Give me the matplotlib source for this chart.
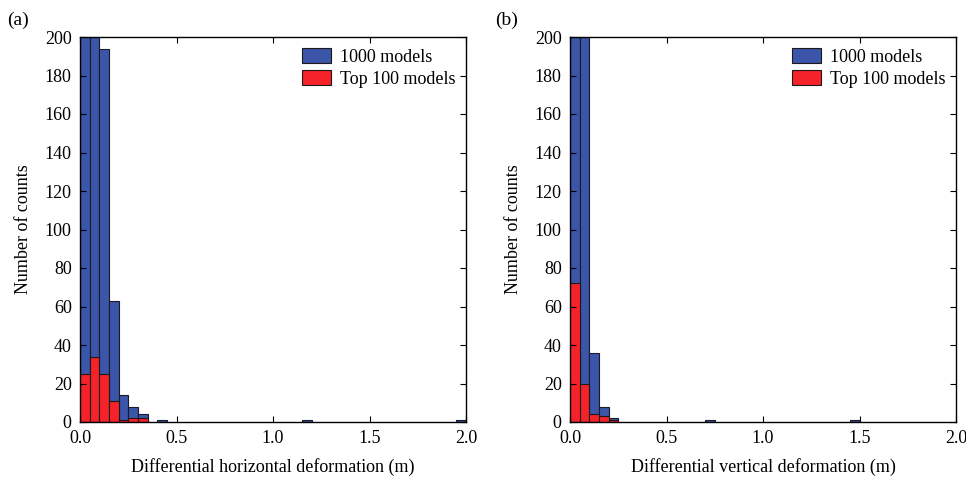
import numpy as np
import matplotlib
matplotlib.use("Agg")
import matplotlib.pyplot as plt
from matplotlib.patches import Patch

# Histogram bins (bin width 0.05 m from 0 to 2.0 m)
bin_width = 0.05
n_bins = 40

# Panel (a): differential horizontal deformation counts (bin index -> count)
horiz_all = {0: 320, 1: 394, 2: 194, 3: 63, 4: 14, 5: 8, 6: 4, 8: 1, 23: 1, 39: 1}
horiz_top = {0: 25, 1: 34, 2: 25, 3: 11, 4: 1, 5: 2, 6: 2}

# Panel (b): differential vertical deformation counts
vert_all = {0: 480, 1: 472, 2: 36, 3: 8, 4: 2, 14: 1, 29: 1}
vert_top = {0: 72, 1: 20, 2: 4, 3: 3, 4: 1}

series_labels = ["1000 models", "Top 100 models"]
xlabels = ["Differential horizontal deformation (m)", "Differential vertical deformation (m)"]
panel_tags = ["(a)", "(b)"]
ylabel = "Number of counts"
xticks = [0.0, 0.5, 1.0, 1.5, 2.0]
yticks = list(range(0, 201, 20))

blue = "#3B55A8"
red = "#F52229"

plt.rcParams['font.family'] = ['Liberation Serif', 'DejaVu Serif']

def to_array(d):
    arr = np.zeros(n_bins)
    for k, v in d.items():
        arr[k] = v
    return arr

fig = plt.figure(figsize=(9.66, 4.78), dpi=100)
positions = [[80/966, 56/478, 386/966, 385/478], [570/966, 56/478, 386/966, 385/478]]
data = [(horiz_all, horiz_top), (vert_all, vert_top)]
tag_x = [7/966, 495/966]

for i in range(2):
    ax = fig.add_axes(positions[i])
    left_edges = np.arange(n_bins) * bin_width
    all_c = to_array(data[i][0])
    top_c = to_array(data[i][1])
    m = all_c > 0
    ax.bar(left_edges[m], all_c[m], width=bin_width, align='edge', color=blue,
           edgecolor='#1a1a2a', linewidth=0.8)
    m2 = top_c > 0
    ax.bar(left_edges[m2], top_c[m2], width=bin_width, align='edge', color=red,
           edgecolor='#1a1a1a', linewidth=0.8)
    ax.set_xlim(0, 2.0)
    ax.set_ylim(0, 200)
    ax.set_xticks(xticks)
    ax.set_xticklabels([f"{t:.1f}" for t in xticks])
    ax.set_yticks(yticks)
    ax.tick_params(direction='in', top=True, right=True, labelsize=13, length=4, pad=6)
    ax.set_xlabel(xlabels[i], fontsize=13, labelpad=8)
    ax.set_ylabel(ylabel, fontsize=13, labelpad=9)
    for s in ax.spines.values():
        s.set_linewidth(1.0)
    handles = [Patch(facecolor=blue, edgecolor='#1a1a1a', linewidth=0.8),
               Patch(facecolor=red, edgecolor='#1a1a1a', linewidth=0.8)]
    ax.legend(handles, series_labels, loc='upper right', frameon=False, fontsize=13,
              handlelength=1.6, handleheight=0.9, handletextpad=0.5, labelspacing=0.25,
              borderaxespad=0.2)
    fig.text(tag_x[i], 0.975, panel_tags[i], fontsize=14, va='top', ha='left')

fig.savefig("out.png", dpi=100)
